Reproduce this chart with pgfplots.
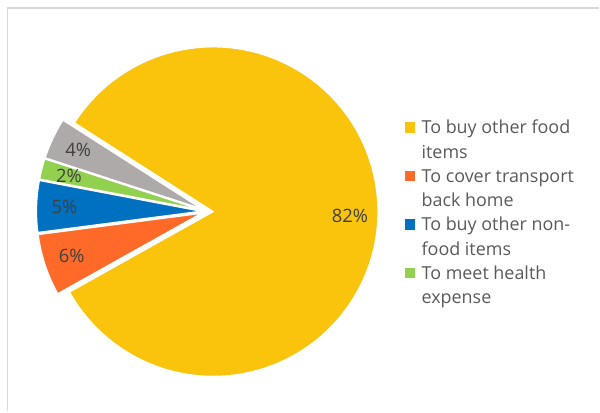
\documentclass[border=0pt]{standalone}
\usepackage{pgfplots}
\pgfplotsset{compat=1.18}
\usepackage{pgfplotstable}
\usepackage{fontspec}
\setmainfont{Open Sans}
\definecolor{cY}{RGB}{250,195,12}
\definecolor{cO}{RGB}{255,106,40}
\definecolor{cB}{RGB}{0,112,192}
\definecolor{cG}{RGB}{146,208,80}
\definecolor{cR}{RGB}{174,170,170}
\definecolor{frame}{RGB}{217,217,217}
\definecolor{lbl}{RGB}{64,64,64}
\definecolor{leg}{RGB}{89,89,89}
\pgfplotstableread{
name value
food 82
transport 6
nonfood 5
health 2
other 4
}\piedata
\pgfplotstablegetelem{0}{value}\of\piedata\let\vY\pgfplotsretval
\pgfplotstablegetelem{1}{value}\of\piedata\let\vO\pgfplotsretval
\pgfplotstablegetelem{2}{value}\of\piedata\let\vB\pgfplotsretval
\pgfplotstablegetelem{3}{value}\of\piedata\let\vG\pgfplotsretval
\pgfplotstablegetelem{4}{value}\of\piedata\let\vR\pgfplotsretval
\pgfmathsetmacro\tot{\vY+\vO+\vB+\vG+\vR}
\pgfmathsetmacro\sA{147.4}
\pgfmathsetmacro\eY{\sA-360*(\vY/\tot)}
\pgfmathsetmacro\eO{\eY-360*(\vO/\tot)}
\pgfmathsetmacro\eB{\eO-360*(\vB/\tot)}
\pgfmathsetmacro\eG{\eB-360*(\vG/\tot)}
\pgfmathsetmacro\eR{\eG-360*(\vR/\tot)}
\newcommand\lblfont{\fontsize{18.5}{22}\selectfont}
\newcommand\legfont{\fontsize{18}{22}\selectfont}
\newcommand\pieslice[4]{%
  \fill[#3, draw=white, line width=1.3bp, line join=round] (axis cs:207.5,200.3) ++({(#1+#2)/2}:6bp) -- ++(#1:165bp) arc[start angle=#1, end angle=#2, radius=165bp] -- cycle;
  \path (axis cs:207.5,200.3) ++({(#1+#2)/2}:143bp) node[lbl, inner sep=0pt] {\lblfont #4\%};
}
\begin{document}%
\begin{tikzpicture}
\begin{axis}[width=600bp, height=412bp, scale only axis, xmin=0, xmax=600, ymin=0, ymax=412, hide axis, clip=false]
\path (axis cs:0,0) rectangle (axis cs:600,412);
\draw[frame, line width=1.6bp] (axis cs:7.5,0) -- (axis cs:7.5,403.7) -- (axis cs:600,403.7);
\pieslice{\sA}{\eY}{cY}{\vY}
\pieslice{\eY}{\eO}{cO}{\vO}
\pieslice{\eO}{\eB}{cB}{\vB}
\pieslice{\eB}{\eG}{cG}{\vG}
\pieslice{\eG}{\eR}{cR}{\vR}
% legend
\fill[cY] (axis cs:405.5,289.5) rectangle ++(10.5bp,-10.5bp);
\fill[cO] (axis cs:405.5,240.9) rectangle ++(10.5bp,-10.5bp);
\fill[cB] (axis cs:405.5,192.3) rectangle ++(10.5bp,-10.5bp);
\fill[cG] (axis cs:405.5,143.7) rectangle ++(10.5bp,-10.5bp);
\begin{scope}[every node/.style={leg, anchor=base west, inner sep=0pt}]
\node at (axis cs:422,278) {\legfont To buy other food};
\node at (axis cs:422,253.7) {\legfont items};
\node at (axis cs:422,229.3) {\legfont To cover transport};
\node at (axis cs:422,205) {\legfont back home};
\node at (axis cs:422,180.7) {\legfont To buy other non-};
\node at (axis cs:422,156.4) {\legfont food items};
\node at (axis cs:422,132) {\legfont To meet health};
\node at (axis cs:422,107.7) {\legfont expense};
\end{scope}
\end{axis}
\end{tikzpicture}%
\end{document}
